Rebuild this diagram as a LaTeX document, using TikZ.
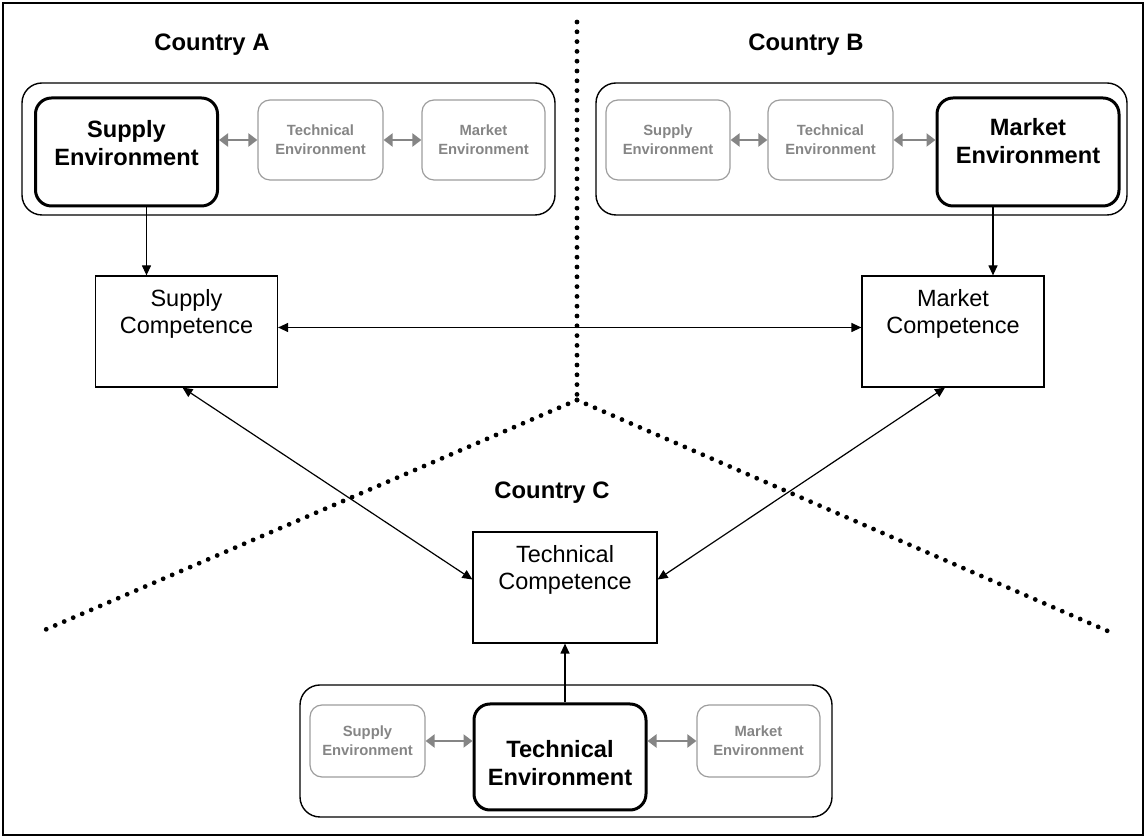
\documentclass[tikz,border=0pt]{standalone}
\usepackage{fontspec}
\setmainfont{Liberation Sans}
\usepackage{tikz}
\usepackage{xcolor}
\usetikzlibrary{arrows.meta}

\definecolor{envgray}{gray}{0.52}

\tikzset{
  frame/.style={draw, line width=0.7pt},
  region/.style={draw, line width=0.7pt, rounded corners=10pt, minimum width=#1},
  mainenv/.style={draw, line width=1.5pt, rounded corners=8pt, minimum width=91pt, minimum height=54pt},
  sideenv/.style={draw=envgray!80, line width=0.6pt, rounded corners=6pt, text=envgray, align=center,
    font=\bfseries\fontsize{7.4}{9.5}\selectfont},
  mainlbl/.style={align=center, font=\bfseries\fontsize{11.8}{13.6}\selectfont},
  compbox/.style={draw, line width=0.6pt, minimum width=91pt, minimum height=55.5pt},
  complbl/.style={align=center, font=\fontsize{11.75}{13.5}\selectfont},
  country/.style={font=\bfseries\fontsize{11.9}{14}\selectfont},
  conn/.style={line width=0.6pt, -{Triangle[length=5pt,width=4.5pt]}},
  dconn/.style={line width=0.6pt, {Triangle[length=5pt,width=4.5pt]}-{Triangle[length=5pt,width=4.5pt]}},
  envarrow/.style={envgray, line width=1.4pt, {Triangle[length=4.5pt,width=6.5pt]}-{Triangle[length=4.5pt,width=6.5pt]}},
  border/.style={line width=2.4pt, line cap=round, dash pattern=on 0pt off 4.9pt}
}

\begin{document}
\begin{tikzpicture}[x=0.5pt,y=-0.5pt]

\useasboundingbox (0,0) rectangle (1147,838);
\draw[frame] (3,3) rectangle (1143,835);

% country borders
\coordinate (top) at (577,22);
\coordinate (mid) at (577,400);
\coordinate (lend) at (40,632);
\coordinate (rend) at (1110,632);
\draw[border] (top) -- (mid);
\draw[border] (mid) -- (lend);
\draw[border] (mid) -- (rend);

\node[country] (ctrya) at (212,45) {Country A};
\node[country] (ctryb) at (806,45) {Country B};
\node[country] (ctryc) at (552,493) {Country C};

% Country A
\node[region=266.5pt, minimum height=66pt] (rega) at (288.5,149) {};
\node[mainenv, label={[mainlbl,yshift=4.5pt]center:Supply\\Environment}] (asupenv) at (126.5,152) {};
\node[sideenv, minimum width=62.5pt, minimum height=40pt] (atecenv) at (320.5,140) {Technical\\Environment};
\node[sideenv, minimum width=61.5pt, minimum height=40pt] (amarenv) at (483.5,140) {Market\\Environment};
\draw[envarrow] (asupenv.east |- atecenv) -- (atecenv.west);
\draw[envarrow] (atecenv.east) -- (amarenv.west);

% Country B
\node[region=265.5pt, minimum height=66pt] (regb) at (861.5,149) {};
\node[sideenv, minimum width=62pt, minimum height=40pt] (bsupenv) at (668,140) {Supply\\Environment};
\node[sideenv, minimum width=62.5pt, minimum height=40pt] (btecenv) at (830.5,140) {Technical\\Environment};
\node[mainenv, label={[mainlbl,yshift=5.5pt]center:Market\\Environment}] (bmarenv) at (1028,152) {};
\draw[envarrow] (bsupenv.east) -- (btecenv.west);
\draw[envarrow] (btecenv.east) -- (bmarenv.west |- btecenv);

% competences
\node[compbox, label={[complbl,yshift=9pt]center:Supply\\Competence}] (supcomp) at (186.5,331.5) {};
\node[compbox, label={[complbl,yshift=9pt]center:Market\\Competence}] (marcomp) at (953,331.5) {};
\node[compbox, minimum width=92pt, label={[complbl,yshift=8.75pt]center:Technical\\Competence}] (teccomp) at (565,587.5) {};

% Country C
\node[region=266pt, minimum height=66pt] (regc) at (566,751) {};
\node[sideenv, minimum width=57.5pt, minimum height=36pt] (csupenv) at (367.5,741) {Supply\\Environment};
\node[mainenv, minimum width=86pt, minimum height=53pt, label={[mainlbl,yshift=-3pt]center:Technical\\Environment}] (ctecenv) at (560,757) {};
\node[sideenv, minimum width=61.5pt, minimum height=36pt] (cmarenv) at (758.5,741) {Market\\Environment};
\draw[envarrow] (csupenv.east) -- (ctecenv.west |- csupenv);
\draw[envarrow] (ctecenv.east |- cmarenv) -- (cmarenv.west);

% links
\draw[conn] ([xshift=10pt]asupenv.south) -- ([xshift=10pt]asupenv.south |- supcomp.north);
\draw[conn] ([xshift=-17.5pt]bmarenv.south) -- ([xshift=-17.5pt]bmarenv.south |- marcomp.north);
\draw[dconn] ([yshift=2pt]supcomp.east) -- ([yshift=2pt]marcomp.west);
\draw[dconn] ([xshift=-2pt]supcomp.south) -- ([yshift=4pt]teccomp.west);
\draw[dconn] ([xshift=-4pt]marcomp.south) -- ([yshift=4pt]teccomp.east);
\draw[conn] (teccomp.south |- ctecenv.north) -- (teccomp.south);

\end{tikzpicture}
\end{document}
